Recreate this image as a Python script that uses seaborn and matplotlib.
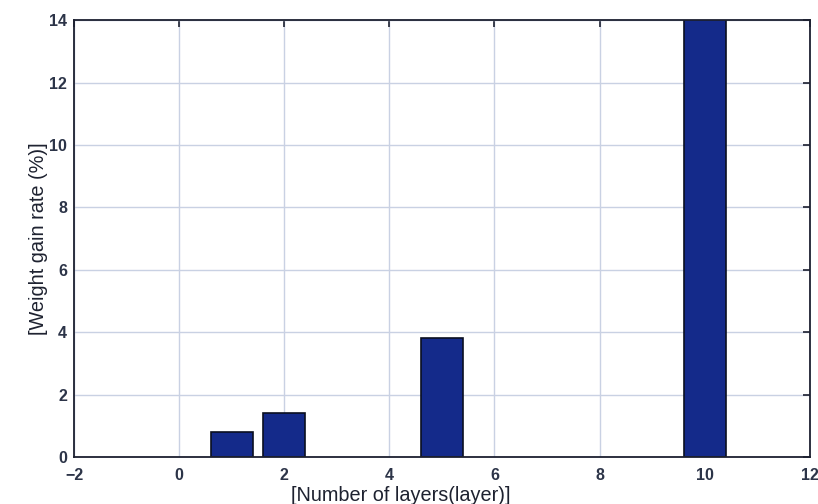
import matplotlib
matplotlib.use("Agg")
import matplotlib.pyplot as plt
import seaborn as sns
import pandas as pd

# Coating weight gain per number of layers
layers = [1, 2, 5, 10]
weight_gain = [0.8, 1.4, 3.8, 14.5]

x_ticks = [-2, 0, 2, 4, 6, 8, 10, 12]
y_ticks = [0, 2, 4, 6, 8, 10, 12, 14]

df = pd.DataFrame({"layers": layers, "gain": weight_gain})

sns.set_style("white")
plt.rcParams["font.family"] = ["Liberation Sans", "DejaVu Sans"]

fig = plt.figure(figsize=(8.18, 5.04), dpi=100)
ax = fig.add_axes([0.0905, 0.0933, 0.8995, 0.8667])

sns.barplot(data=df, x="layers", y="gain", native_scale=True, width=0.8,
            color="#142a8a", saturation=1, edgecolor="#0a0f20", linewidth=1.2,
            ax=ax, zorder=3)

ax.set_xlim(-2, 12)
ax.set_ylim(0, 14)
ax.set_xticks(x_ticks)
ax.set_yticks(y_ticks)
ax.set_xticklabels([str(t).replace("-", "\u2212") for t in x_ticks])
ax.set_yticklabels([str(t) for t in y_ticks])

ax.grid(True, color="#c9d1e3", linewidth=1.0, zorder=0)
ax.set_axisbelow(True)

for sp in ax.spines.values():
    sp.set_color("#1c2030")
    sp.set_linewidth(1.3)
    sp.set_zorder(5)

tick_color = "#2c3448"
ax.tick_params(axis="both", which="major", direction="in", length=5, width=1.2,
               color="#1c2030", top=True, right=True, labelsize=11.5,
               labelcolor=tick_color)
ax.tick_params(axis="x", pad=8)
ax.tick_params(axis="y", pad=5)
for lbl in ax.get_xticklabels() + ax.get_yticklabels():
    lbl.set_fontweight("bold")

ax.set_xlabel("[Number of layers(layer)]", fontsize=14.3, color="#1e2230")
ax.xaxis.set_label_coords(0.444, -0.066)
ax.set_ylabel("[Weight gain rate (%)]", fontsize=14.3, color="#1e2230", labelpad=1)

fig.savefig("out.png", dpi=100, facecolor="white")
